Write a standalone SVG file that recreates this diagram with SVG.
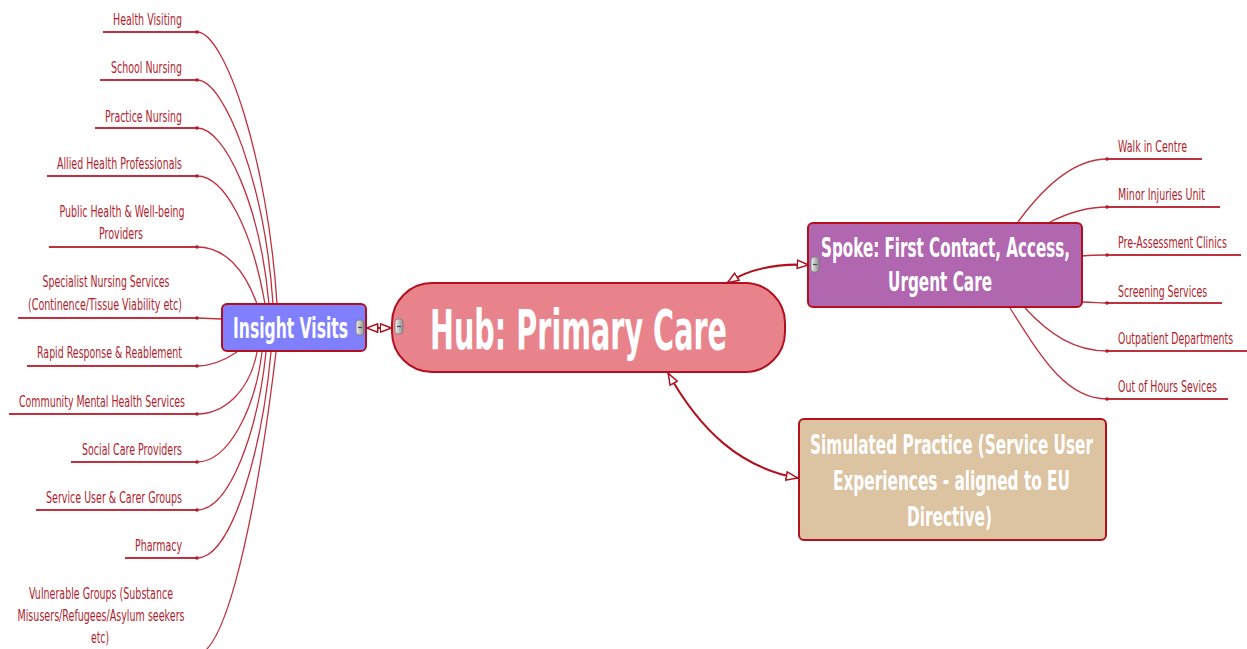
<svg xmlns="http://www.w3.org/2000/svg" width="1247" height="649" viewBox="0 0 1247 649">
<defs>
<style>
.lbl{font-family:"DejaVu Sans","Liberation Sans",sans-serif;font-size:16px;fill:#b11c2c;}
.nt{font-family:"DejaVu Sans","Liberation Sans",sans-serif;font-weight:bold;fill:#ffffff;}
.br{fill:none;stroke:#c0313f;stroke-width:1.3;}
.ul{fill:none;stroke:#c0313f;stroke-width:2;}
.dot{fill:#b11c2c;}
.node{stroke:#b3101f;stroke-width:2;}
.con{fill:none;stroke:#b3101f;stroke-width:2;}
.btn{fill:url(#bg);stroke:#777;stroke-width:0.8;}
.btnl{stroke:#444;stroke-width:1.2;}
</style>
<linearGradient id="bg" x1="0" y1="0" x2="1" y2="0">
<stop offset="0" stop-color="#f2f2f2"/>
<stop offset="1" stop-color="#8d8d8d"/>
</linearGradient>
<marker id="ah" viewBox="0 0 13 10" refX="12.5" refY="5" markerWidth="13" markerHeight="10" orient="auto-start-reverse" markerUnits="userSpaceOnUse">
<path d="M0.8,0.8 L12,5 L0.8,9.2 Z" fill="#ffffff" stroke="#b3101f" stroke-width="1.5"/>
</marker>
</defs>
<rect width="1247" height="649" fill="#ffffff"/>

<g id="connectors">
<path class="br" d="M277,304 C268,160 225,32 197,32"/>
<path class="br" d="M273,304 C265,185 225,80 197,80"/>
<path class="br" d="M269,304 C260,205 225,128 197,128"/>
<path class="br" d="M265,304 C252,230 225,176 197,176"/>
<path class="br" d="M257,304 C245,270 225,247 197,247"/>
<path class="br" d="M222,319 L197,318"/>
<path class="br" d="M237,352 C225,360 212,366 197,366"/>
<path class="br" d="M257,352 C250,390 225,414 197,414"/>
<path class="br" d="M262,352 C255,410 228,462 197,462"/>
<path class="br" d="M266,352 C258,430 230,510 197,510"/>
<path class="br" d="M271,352 C262,450 232,558 197,558"/>
<path class="br" d="M276,352 C262,470 232,650 197,655"/>
<path class="ul" d="M103,32 H197 M100,80 H197 M95,128 H197 M47,176 H197 M49,247 H197 M18,318 H197 M27,366 H197 M9,414 H197 M71,462 H197 M36,510 H197 M125,558 H197"/>
<g class="dot">
<circle cx="197" cy="32" r="1.8"/><circle cx="197" cy="80" r="1.8"/><circle cx="197" cy="128" r="1.8"/><circle cx="197" cy="176" r="1.8"/><circle cx="197" cy="247" r="1.8"/><circle cx="197" cy="318" r="1.8"/><circle cx="197" cy="366" r="1.8"/><circle cx="197" cy="414" r="1.8"/><circle cx="197" cy="462" r="1.8"/><circle cx="197" cy="510" r="1.8"/><circle cx="197" cy="558" r="1.8"/>
</g>
<path class="br" d="M1018,222 C1045,185 1075,159 1107,159"/>
<path class="br" d="M1050,222 C1070,212 1090,207 1107,207"/>
<path class="br" d="M1082,256 C1092,255 1100,255 1107,255"/>
<path class="br" d="M1082,302 C1092,302 1100,303 1107,303"/>
<path class="br" d="M1025,308 C1050,335 1075,351 1107,351"/>
<path class="br" d="M1010,308 C1040,355 1065,399 1107,399"/>
<path class="ul" d="M1107,159 H1202 M1107,207 H1220 M1107,255 H1241 M1107,303 H1222 M1107,351 H1247 M1107,399 H1228"/>
<g class="dot">
<circle cx="1107" cy="159" r="1.8"/><circle cx="1107" cy="207" r="1.8"/><circle cx="1107" cy="255" r="1.8"/><circle cx="1107" cy="303" r="1.8"/><circle cx="1107" cy="351" r="1.8"/><circle cx="1107" cy="399" r="1.8"/>
</g>
<path class="con" d="M366,328 L392,328" marker-start="url(#ah)" marker-end="url(#ah)"/>
<path class="con" d="M727,283 Q760,262 809,265" marker-start="url(#ah)" marker-end="url(#ah)"/>
<path class="con" d="M668,373 C700,430 740,468 798,478" marker-start="url(#ah)" marker-end="url(#ah)"/>
</g>

<g id="labels-left">
<text class="lbl" transform="translate(182,25) scale(0.52,1)" text-anchor="end" textLength="132.7" lengthAdjust="spacingAndGlyphs">Health Visiting</text>
<text class="lbl" transform="translate(182,73) scale(0.52,1)" text-anchor="end" textLength="136.5" lengthAdjust="spacingAndGlyphs">School Nursing</text>
<text class="lbl" transform="translate(182,122) scale(0.52,1)" text-anchor="end" textLength="148.1" lengthAdjust="spacingAndGlyphs">Practice Nursing</text>
<text class="lbl" transform="translate(182,169) scale(0.52,1)" text-anchor="end" textLength="240.4" lengthAdjust="spacingAndGlyphs">Allied Health Professionals</text>
<text class="lbl" transform="translate(122,217) scale(0.52,1)" text-anchor="middle" textLength="240.4" lengthAdjust="spacingAndGlyphs">Public Health &amp; Well-being</text>
<text class="lbl" transform="translate(121,239) scale(0.52,1)" text-anchor="middle" textLength="84.6" lengthAdjust="spacingAndGlyphs">Providers</text>
<text class="lbl" transform="translate(106,287) scale(0.52,1)" text-anchor="middle" textLength="244.2" lengthAdjust="spacingAndGlyphs">Specialist Nursing Services</text>
<text class="lbl" transform="translate(105,310) scale(0.52,1)" text-anchor="middle" textLength="296.2" lengthAdjust="spacingAndGlyphs">(Continence/Tissue Viability etc)</text>
<text class="lbl" transform="translate(182,358) scale(0.52,1)" text-anchor="end" textLength="278.8" lengthAdjust="spacingAndGlyphs">Rapid Response &amp; Reablement</text>
<text class="lbl" transform="translate(185,407) scale(0.52,1)" text-anchor="end" textLength="319.2" lengthAdjust="spacingAndGlyphs">Community Mental Health Services</text>
<text class="lbl" transform="translate(182,455) scale(0.52,1)" text-anchor="end" textLength="192.3" lengthAdjust="spacingAndGlyphs">Social Care Providers</text>
<text class="lbl" transform="translate(182,503) scale(0.52,1)" text-anchor="end" textLength="261.5" lengthAdjust="spacingAndGlyphs">Service User &amp; Carer Groups</text>
<text class="lbl" transform="translate(182,551) scale(0.52,1)" text-anchor="end" textLength="90.4" lengthAdjust="spacingAndGlyphs">Pharmacy</text>
<text class="lbl" transform="translate(101,599) scale(0.52,1)" text-anchor="middle" textLength="276.9" lengthAdjust="spacingAndGlyphs">Vulnerable Groups (Substance</text>
<text class="lbl" transform="translate(101,621) scale(0.52,1)" text-anchor="middle" textLength="321.2" lengthAdjust="spacingAndGlyphs">Misusers/Refugees/Asylum seekers</text>
<text class="lbl" transform="translate(100,643) scale(0.52,1)" text-anchor="middle" textLength="34.6" lengthAdjust="spacingAndGlyphs">etc)</text>
</g>

<g id="labels-right">
<text class="lbl" transform="translate(1118,152) scale(0.52,1)" textLength="132.7" lengthAdjust="spacingAndGlyphs">Walk in Centre</text>
<text class="lbl" transform="translate(1118,200) scale(0.52,1)" textLength="167.3" lengthAdjust="spacingAndGlyphs">Minor Injuries Unit</text>
<text class="lbl" transform="translate(1118,248) scale(0.52,1)" textLength="209.6" lengthAdjust="spacingAndGlyphs">Pre-Assessment Clinics</text>
<text class="lbl" transform="translate(1118,297) scale(0.52,1)" textLength="171.2" lengthAdjust="spacingAndGlyphs">Screening Services</text>
<text class="lbl" transform="translate(1118,344) scale(0.52,1)" textLength="221.2" lengthAdjust="spacingAndGlyphs">Outpatient Departments</text>
<text class="lbl" transform="translate(1118,392) scale(0.52,1)" textLength="190.4" lengthAdjust="spacingAndGlyphs">Out of Hours Sevices</text>
</g>

<g id="insight">
<rect class="node" x="222" y="304" width="144" height="47" rx="5" fill="#8080ff"/>
<text class="nt" transform="translate(290.5,338) scale(0.5,1)" font-size="28" text-anchor="middle" textLength="230" lengthAdjust="spacingAndGlyphs">Insight Visits</text>
<rect class="btn" x="356" y="320" width="8" height="15" rx="3"/>
<line class="btnl" x1="358" y1="327.5" x2="362" y2="327.5"/>
</g>

<g id="hub">
<rect class="node" x="392" y="283" width="393" height="89" rx="40" fill="#e9838b"/>
<text class="nt" transform="translate(578.5,349) scale(0.5,1)" font-size="56" text-anchor="middle" textLength="594" lengthAdjust="spacingAndGlyphs">Hub: Primary Care</text>
<rect class="btn" x="395" y="319" width="8" height="15" rx="3"/>
<line class="btnl" x1="397" y1="326.5" x2="401" y2="326.5"/>
</g>

<g id="spoke">
<rect class="node" x="808" y="223" width="274" height="84" rx="5" fill="#b067b0"/>
<text class="nt" transform="translate(945.5,257) scale(0.5,1)" font-size="27" text-anchor="middle" textLength="498" lengthAdjust="spacingAndGlyphs">Spoke: First Contact, Access,</text>
<text class="nt" transform="translate(940,291) scale(0.5,1)" font-size="27" text-anchor="middle" textLength="208" lengthAdjust="spacingAndGlyphs">Urgent Care</text>
<rect class="btn" x="811" y="257" width="8" height="15" rx="3"/>
<line class="btnl" x1="813" y1="264.5" x2="817" y2="264.5"/>
</g>

<g id="simulated">
<rect class="node" x="799" y="419" width="307" height="121" rx="5" fill="#dcc3a2"/>
<text class="nt" transform="translate(951.5,454) scale(0.5,1)" font-size="27" text-anchor="middle" textLength="566" lengthAdjust="spacingAndGlyphs">Simulated Practice (Service User</text>
<text class="nt" transform="translate(951.5,490) scale(0.5,1)" font-size="27" text-anchor="middle" textLength="474" lengthAdjust="spacingAndGlyphs">Experiences - aligned to EU</text>
<text class="nt" transform="translate(949.5,526) scale(0.5,1)" font-size="27" text-anchor="middle" textLength="170" lengthAdjust="spacingAndGlyphs">Directive)</text>
</g>
</svg>
